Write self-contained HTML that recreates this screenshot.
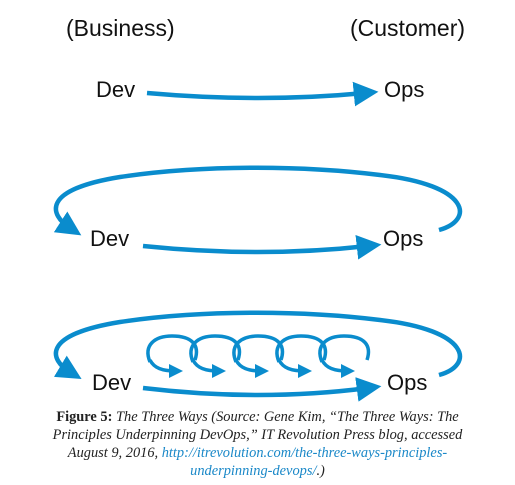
<!DOCTYPE html>
<html><head><style>
html,body{margin:0;padding:0;background:#fff;width:515px;height:485px;overflow:hidden}
.t{position:absolute;font-family:"Liberation Sans",sans-serif;color:#111;font-size:22px;line-height:1}
.cap{position:absolute;left:0;width:515px;top:408px;text-align:center;font-family:"Liberation Serif",serif;font-size:14.4px;line-height:18px;color:#222;font-style:italic}
.cap b{font-style:normal}
.cap a{color:#1a88c8;text-decoration:none}
</style></head><body>
<div class="t" style="left:66px;top:17px;font-size:23px">(Business)</div>
<div class="t" style="left:350px;top:17px;font-size:23px">(Customer)</div>
<div class="t" style="left:96px;top:79px">Dev</div>
<div class="t" style="left:384px;top:79px">Ops</div>
<div class="t" style="left:90px;top:228px">Dev</div>
<div class="t" style="left:383px;top:228px">Ops</div>
<div class="t" style="left:92px;top:372px">Dev</div>
<div class="t" style="left:387px;top:372px">Ops</div>
<svg width="515" height="485" style="position:absolute;left:0;top:0">
<defs><marker id="a" markerWidth="5.5" markerHeight="5.5" refX="2.5" refY="2.75" orient="auto" markerUnits="strokeWidth"><path d="M0,0L5.5,2.75L0,5.5z" fill="#0a8ccd"/></marker>
<marker id="b" markerWidth="4" markerHeight="4" refX="2" refY="2" orient="auto" markerUnits="strokeWidth"><path d="M0,0L4,2L0,4z" fill="#0a8ccd"/></marker></defs>
<g fill="none" stroke="#0a8ccd" stroke-width="4.5" stroke-linecap="butt">
<path d="M147,93 Q260,103 365,93" marker-end="url(#a)"/>
<path d="M143,246 Q260,258 368,246" marker-end="url(#a)"/>
<path d="M439,230 C475,220 470,185 380,175 C300,165 200,165 120,177 C40,190 50,215 70,228" marker-end="url(#a)"/>
<path d="M143,388 Q260,402 368,388" marker-end="url(#a)"/>
<path d="M439,375 C475,365 470,330 380,320 C300,310 200,310 120,322 C40,335 50,360 70,372" marker-end="url(#a)"/>
<g stroke-width="3.5">
<path d="M150,362 C143,345 155,336 172,336 C192,336 200,345 195,360"/>
<path d="M193,362 C186,345 198,336 215,336 C235,336 243,345 238,360"/>
<path d="M236,362 C229,345 241,336 258,336 C278,336 286,345 281,360"/>
<path d="M279,362 C272,345 284,336 301,336 C321,336 329,345 324,360"/>
<path d="M322,362 C315,345 327,336 344,336 C364,336 372,345 367,360"/>
<path d="M150,360 C154,368 162,371 176,371" marker-end="url(#b)"/>
<path d="M193,360 C197,368 205,371 219,371" marker-end="url(#b)"/>
<path d="M236,360 C240,368 248,371 262,371" marker-end="url(#b)"/>
<path d="M279,360 C283,368 291,371 305,371" marker-end="url(#b)"/>
<path d="M322,360 C326,368 334,371 348,371" marker-end="url(#b)"/>
</g></g></svg>
<div class="cap"><b>Figure 5:</b> The Three Ways (Source: Gene Kim, “The Three Ways: The<br>Principles Underpinning DevOps,” IT Revolution Press blog, accessed<br>August 9, 2016, <a>http://itrevolution.com/the-three-ways-principles-<br>underpinning-devops/</a>.)</div>
</body></html>
